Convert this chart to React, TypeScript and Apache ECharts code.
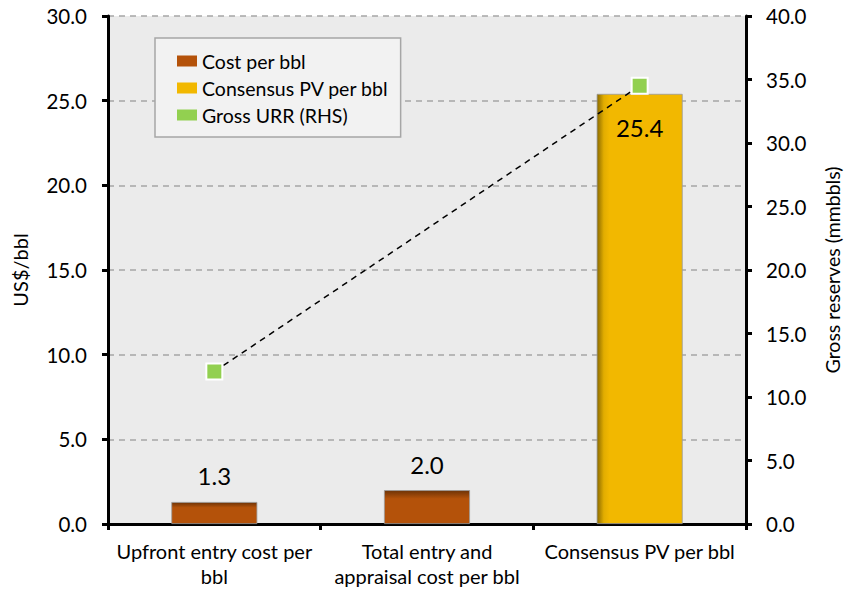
import React, { useEffect, useRef } from "react";
import * as echarts from "echarts";

const categories = [
  "Upfront entry cost per\nbbl",
  "Total entry and\nappraisal cost per bbl",
  "Consensus PV per bbl",
];
const costPerBbl = [1.3, 2.0, null];
const consensusPv = [null, null, 25.4];
const grossUrr = [12.0, null, 34.5];
const leftTicks = { min: 0, max: 30, interval: 5 };
const rightTicks = { min: 0, max: 40, interval: 5 };

const FONT = "Lato";

export default function App() {
  const ref = useRef<HTMLDivElement>(null);
  useEffect(() => {
    if (!ref.current) return;
    const chart = echarts.init(ref.current, undefined, { renderer: "svg", width: 846, height: 590 });
    const costFill = new echarts.graphic.LinearGradient(0, 0, 0, 1, [
      { offset: 0, color: "#6e3306" },
      { offset: 0.25, color: "#b4520a" },
      { offset: 1, color: "#b4520a" },
    ]);
    const pvFill = new echarts.graphic.LinearGradient(0, 0, 1, 0, [
      { offset: 0, color: "#8a6a00" },
      { offset: 0.08, color: "#e2ad00" },
      { offset: 0.15, color: "#f2b800" },
      { offset: 1, color: "#f2b800" },
    ]);
    const tickLabel = {
      fontFamily: FONT,
      fontSize: 20.5,
      color: "#000",
      formatter: (v: number) => v.toFixed(1),
    };
    chart.setOption({
      animation: false,
      backgroundColor: "#ffffff",
      textStyle: { fontFamily: FONT },
      grid: {
        left: 108,
        right: 100,
        top: 16,
        bottom: 66,
        show: true,
        backgroundColor: "#ebebeb",
        borderWidth: 0,
        containLabel: false,
        outerBoundsMode: "none",
      },
      legend: {
        show: true,
        orient: "vertical",
        left: 155,
        top: 38,
        padding: [13, 12, 12, 22],
        backgroundColor: "#f2f2f2",
        borderColor: "#a6a6a6",
        borderWidth: 1.5,
        itemWidth: 20,
        itemHeight: 11,
        itemGap: 7,
        textStyle: { fontFamily: FONT, fontSize: 19.5, color: "#000" },
        data: [
          { name: "Cost per bbl", icon: "rect", itemStyle: { color: "#b4520a", borderWidth: 0 } },
          { name: "Consensus PV per bbl", icon: "rect", itemStyle: { color: "#f2b800", borderWidth: 0 } },
          { name: "Gross URR (RHS)", icon: "rect", itemStyle: { color: "#92d050", borderWidth: 0 } },
        ],
      },
      xAxis: {
        type: "category",
        data: categories,
        axisLine: { lineStyle: { color: "#000", width: 3 } },
        axisTick: { show: true, length: 6, lineStyle: { color: "#000", width: 3 } },
        axisLabel: {
          interval: 0,
          fontFamily: FONT,
          fontSize: 20,
          color: "#000",
          lineHeight: 25,
          margin: 14,
        },
      },
      yAxis: [
        {
          type: "value",
          ...leftTicks,
          name: "US$/bbl",
          nameLocation: "middle",
          nameRotate: 90,
          nameGap: 78,
          nameTextStyle: { fontFamily: FONT, fontSize: 20, color: "#000" },
          axisLine: { show: true, lineStyle: { color: "#000", width: 3 } },
          axisTick: { show: true, length: 6, lineStyle: { color: "#000", width: 3 } },
          axisLabel: { ...tickLabel, margin: 21 },
          splitLine: {
            show: true,
            lineStyle: { color: "#a6a6a6", width: 1.5, type: [6, 5] },
          },
        },
        {
          type: "value",
          ...rightTicks,
          position: "right",
          name: "Gross reserves (mmbbls)",
          nameLocation: "middle",
          nameRotate: 90,
          nameGap: 76,
          nameTextStyle: { fontFamily: FONT, fontSize: 19.5, color: "#000" },
          axisLine: { show: true, lineStyle: { color: "#000", width: 3 } },
          axisTick: { show: true, length: 6, lineStyle: { color: "#000", width: 3 } },
          axisLabel: { ...tickLabel, margin: 20 },
          splitLine: { show: false },
        },
      ],
      series: [
        {
          name: "Cost per bbl",
          type: "bar",
          stack: "bars",
          barWidth: 86,
          data: costPerBbl,
          itemStyle: { color: costFill, borderColor: "#9a9a9a", borderWidth: 0.8 },
          label: {
            show: true,
            position: "top",
            distance: 14,
            fontFamily: FONT,
            fontSize: 24,
            color: "#000",
            formatter: (p: any) => (p.value == null ? "" : Number(p.value).toFixed(1)),
          },
        },
        {
          name: "Consensus PV per bbl",
          type: "bar",
          stack: "bars",
          barWidth: 86,
          data: consensusPv,
          itemStyle: { color: pvFill, borderColor: "#9a9a9a", borderWidth: 0.8 },
          label: {
            show: true,
            position: "insideTop",
            distance: 22,
            fontFamily: FONT,
            fontSize: 24,
            color: "#000",
            formatter: (p: any) => (p.value == null ? "" : Number(p.value).toFixed(1)),
          },
        },
        {
          name: "Gross URR (RHS)",
          type: "line",
          yAxisIndex: 1,
          data: grossUrr,
          connectNulls: true,
          symbol: "rect",
          symbolSize: 16,
          lineStyle: { color: "#000", width: 1.5, type: [6, 5] },
          itemStyle: { color: "#92d050", borderColor: "#ffffff", borderWidth: 2 },
          z: 5,
        },
      ],
    });
    return () => chart.dispose();
  }, []);
  return (
    <div
      ref={ref}
      style={{ position: "fixed", left: 0, top: 0, width: 846, height: 590 }}
    />
  );
}
